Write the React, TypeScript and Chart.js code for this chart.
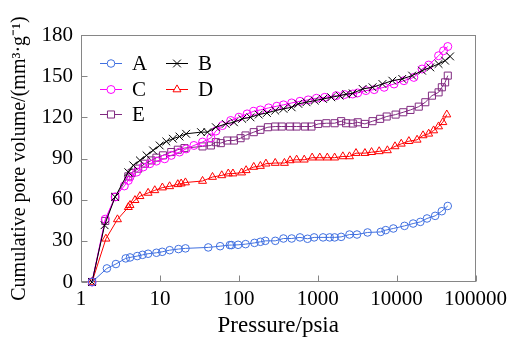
import React, { useEffect, useRef } from "react";
import { Chart, registerables } from "chart.js";
import { drawPoint } from "chart.js/helpers";

Chart.register(...registerables);

const pressureA = [1.38, 2.13, 2.77, 3.69, 4.18, 5.16, 6.03, 7.09, 9.04, 10.7, 13.3, 17.2, 21.1, 41, 58, 77, 81, 98, 122, 158, 188, 217, 290, 368, 468, 596, 743, 901, 1169, 1419, 1640, 1983, 2528, 3148, 4287, 6295, 7278, 9095, 12600, 16200, 20000, 24300, 30800, 37400, 44500];
const volumeA = [0, 9.9, 13.1, 17.2, 17.9, 18.9, 19.8, 20.6, 21.3, 22.0, 23.2, 24.0, 24.5, 25.2, 26.1, 26.9, 26.9, 27.1, 27.6, 28.5, 29.3, 30.0, 30.0, 31.7, 31.7, 32.5, 31.5, 32.5, 32.5, 32.5, 32.5, 32.9, 34.6, 34.6, 36.1, 36.5, 37.8, 39.0, 40.9, 42.6, 43.8, 46.3, 48.2, 51.6, 55.4];

const pressureB = [1.38, 1.99, 2.71, 3.98, 4.6, 5.58, 6.77, 8.19, 9.94, 12.06, 14.6, 17.72, 21.5, 33.2, 40.1, 51.2, 68.3, 86.8, 110.3, 140.6, 178.8, 227.2, 289.5, 368.1, 467.8, 567.6, 721.4, 919.5, 1169, 1486, 1894, 2292, 2781, 3712, 4956, 6615, 8831, 11790, 15740, 21010, 26710, 34040, 41190, 47600];
const volumeB = [0, 41.4, 62, 80, 85, 88.6, 92.3, 95.9, 99.5, 102.4, 104.4, 106, 108, 109.2, 109.2, 112.8, 115.2, 116.4, 118.9, 120, 122, 123.2, 124.9, 126.2, 127.3, 129.8, 131, 132.2, 133.4, 134.6, 135.8, 136.8, 137.5, 140.7, 141.9, 144.3, 146.7, 148, 150.4, 154, 156.4, 158.9, 161.3, 164.4];

const pressureC = [1.38, 2.03, 2.71, 3.54, 3.98, 4.18, 5.07, 6.14, 7.45, 9.04, 11.49, 13.94, 17.72, 21.5, 27, 34.7, 44.3, 51.2, 61.9, 78.9, 100.3, 127.5, 154.7, 187.7, 238.6, 303.3, 368.1, 467.8, 596.3, 757.8, 963.1, 1228, 1717, 2188, 2781, 3213, 4084, 5205, 6950, 9276, 12383, 16530, 21010, 25500, 34040, 39330, 44540];
const volumeC = [0, 45.8, 62, 70, 74, 76.5, 80.1, 83.8, 86.2, 88.1, 89.8, 92.3, 94.7, 97, 99.5, 102, 105, 110, 114, 117.7, 120.1, 122.5, 124.4, 125.4, 126.9, 128.1, 129.1, 130.5, 131.7, 132.7, 133.9, 134.6, 135.8, 136.6, 137, 137.8, 139.5, 140.2, 141.9, 144.3, 146.7, 149.1, 155.2, 158.1, 164.9, 168.5, 171.6];

const pressureD = [1.38, 2.07, 2.9, 3.98, 4.18, 4.83, 5.58, 7.09, 8.61, 10.75, 13.27, 16.87, 18.61, 21.07, 34.7, 46.4, 60.8, 73.6, 84.3, 108.4, 123.8, 154.7, 187.7, 220.8, 289.5, 378.8, 446.7, 540.4, 675.1, 850.6, 1063, 1323, 1639, 2083, 2528, 3059, 3968, 4814, 6015, 7643, 9548, 11455, 14310, 18180, 21630, 25500, 29470, 34040, 38540, 43270];
const volumeD = [0, 31.5, 45.6, 54.5, 56, 59.6, 62.5, 64.9, 66.8, 68.8, 69.7, 71.2, 71.7, 72.5, 73.6, 76.5, 77.7, 79, 79, 79.7, 81.4, 83.8, 84.5, 86.2, 86.7, 86.7, 88.6, 89.1, 89.1, 90.6, 90.6, 90.6, 90.6, 91.5, 91.5, 93.9, 93.9, 94.6, 95.2, 95.9, 98.8, 100.7, 102.6, 103.6, 106.8, 108, 110.4, 113.3, 116.4, 122];

const pressureE = [1.38, 2.03, 2.71, 3.98, 4.39, 5.31, 6.45, 7.82, 9.04, 10.94, 13.94, 16.87, 20.47, 34.7, 44.3, 51.2, 59.1, 71.5, 86.8, 105.3, 121.7, 154.7, 187.7, 233.8, 289.5, 350.4, 446.7, 540.4, 688.8, 833.7, 1012, 1286, 1639, 1983, 2292, 2781, 3213, 3968, 4956, 6190, 7490, 9715, 12135, 14990, 19100, 23110, 28050, 34040, 37450, 41190, 44540];
const volumeE = [0, 44.5, 62, 77, 79.5, 82.6, 86.2, 88.6, 90.6, 92.3, 94.7, 96.4, 97.6, 98.8, 99.5, 101.9, 101.2, 103.1, 103.1, 104.8, 106.8, 109.2, 110.9, 112.8, 113.3, 113.3, 113.3, 113.3, 113.3, 113.3, 115.2, 115.7, 115.7, 117.2, 115.7, 115.5, 116.4, 115.2, 117.2, 118.9, 120.6, 122, 123.7, 125.4, 127.8, 131, 135.8, 138.2, 141.9, 145.5, 150.4];

const seriesLabels = ["A", "B", "C", "D", "E"];
const xTicks = [1, 10, 100, 1000, 10000, 100000];
const yTicks = [0, 30, 60, 90, 120, 150, 180];
const xTitle = "Pressure/psia";
const yTitle = "Cumulative pore volume/(mm³·g⁻¹)";

const SERIF = '"Liberation Serif", "Times New Roman", Times, serif';

export default function App() {
  const ref = useRef<HTMLCanvasElement>(null);

  useEffect(() => {
    document.body.style.margin = "0";
    const canvas = ref.current;
    if (!canvas) return;

    const mk = (
      label: string,
      px: number[],
      vy: number[],
      color: string,
      pointStyle: string,
      radius: number
    ) => ({
      label,
      data: px.map((p, i) => ({ x: p, y: vy[i] })),
      borderColor: color,
      backgroundColor: "rgba(0,0,0,0)",
      pointBorderColor: color,
      pointBackgroundColor: "rgba(255,255,255,0)",
      pointStyle,
      pointRadius: radius,
      pointBorderWidth: 1,
      borderWidth: 1,
      tension: 0,
      clip: false,
    });

    const datasets: any[] = [
      mk(seriesLabels[0], pressureA, volumeA, "#4070e0", "circle", 3.8),
      mk(seriesLabels[1], pressureB, volumeB, "#000000", "crossRot", 5.5),
      mk(seriesLabels[2], pressureC, volumeC, "#ff00ff", "circle", 4),
      mk(seriesLabels[3], pressureD, volumeD, "#ff0000", "triangle", 4.6),
      mk(seriesLabels[4], pressureE, volumeE, "#802a80", "rect", 5),
    ];

    const framePlugin = {
      id: "frame",
      beforeDatasetsDraw(chart: any) {
        const { ctx, chartArea: a, scales } = chart;
        ctx.save();
        ctx.strokeStyle = "#868686";
        ctx.lineWidth = 1;
        const L = Math.round(a.left) + 0.5;
        const R = Math.round(a.right) - 0.5;
        const T = Math.round(a.top) + 0.5;
        const B = Math.round(a.bottom) - 0.5;
        ctx.strokeRect(L, T, R - L, B - T);
        ctx.beginPath();
        for (const v of xTicks) {
          const x = Math.round(scales.x.getPixelForValue(v)) + 0.5;
          ctx.moveTo(x, B);
          ctx.lineTo(x, B - 6);
        }
        for (const v of yTicks) {
          const y = Math.round(scales.y.getPixelForValue(v)) + 0.5;
          ctx.moveTo(L, y);
          ctx.lineTo(L + 6, y);
        }
        ctx.stroke();
        ctx.restore();
      },
    };

    const legendItems = [
      { idx: 0, x: 100, y: 63 },
      { idx: 1, x: 166, y: 63 },
      { idx: 2, x: 100, y: 89 },
      { idx: 3, x: 166, y: 89 },
      { idx: 4, x: 100, y: 114 },
    ];

    const legendPlugin = {
      id: "innerLegend",
      afterDraw(chart: any) {
        const { ctx } = chart;
        ctx.save();
        for (const it of legendItems) {
          const ds = chart.data.datasets[it.idx];
          ctx.strokeStyle = ds.borderColor;
          ctx.lineWidth = 1;
          ctx.beginPath();
          ctx.moveTo(it.x, it.y + 0.5);
          ctx.lineTo(it.x + 22, it.y + 0.5);
          ctx.stroke();
          ctx.fillStyle = "#ffffff";
          ctx.strokeStyle = ds.pointBorderColor;
          drawPoint(
            ctx,
            { pointStyle: ds.pointStyle, radius: ds.pointRadius, borderWidth: 1, rotation: 0 } as any,
            it.x + 11,
            it.y + 0.5
          );
          ctx.fillStyle = "#000000";
          ctx.font = `21px ${SERIF}`;
          ctx.textAlign = "left";
          ctx.textBaseline = "middle";
          ctx.fillText(ds.label, it.x + 32, it.y + 1);
        }
        ctx.restore();
      },
    };

    const tickFont = { family: SERIF, size: 21 };

    const chart = new Chart(canvas, {
      type: "line",
      data: { datasets },
      options: {
        animation: false,
        responsive: false,
        devicePixelRatio: 1,
        layout: { padding: { top: 35, right: 33, left: 0, bottom: 0 } },
        plugins: { legend: { display: false }, tooltip: { enabled: false } },
        scales: {
          x: {
            type: "logarithmic",
            min: 1,
            max: 100000,
            afterBuildTicks: (s: any) => {
              s.ticks = xTicks.map((v) => ({ value: v }));
            },
            afterFit: (s: any) => {
              s.height = 58;
            },
            ticks: {
              callback: (v: any) => String(v),
              font: tickFont,
              color: "#000",
              padding: 5,
              maxRotation: 0,
              autoSkip: false,
            },
            grid: { display: false, drawTicks: false },
            border: { display: false },
            title: {
              display: true,
              text: xTitle,
              font: { family: SERIF, size: 23 },
              color: "#000",
              padding: { top: 0, bottom: 0 },
            },
          },
          y: {
            type: "linear",
            min: 0,
            max: 180,
            afterBuildTicks: (s: any) => {
              s.ticks = yTicks.map((v) => ({ value: v }));
            },
            afterFit: (s: any) => {
              s.width = 81;
            },
            ticks: { font: tickFont, color: "#000", padding: 8 },
            grid: { display: false, drawTicks: false },
            border: { display: false },
            title: {
              display: true,
              text: yTitle,
              font: { family: SERIF, size: 20 },
              color: "#000",
              padding: { top: 8, bottom: 0 },
            },
          },
        },
      } as any,
      plugins: [framePlugin, legendPlugin],
    });

    return () => chart.destroy();
  }, []);

  return (
    <div style={{ width: 512, height: 340 }}>
      <canvas ref={ref} width={512} height={340} style={{ width: 512, height: 340, display: "block" }} />
    </div>
  );
}
